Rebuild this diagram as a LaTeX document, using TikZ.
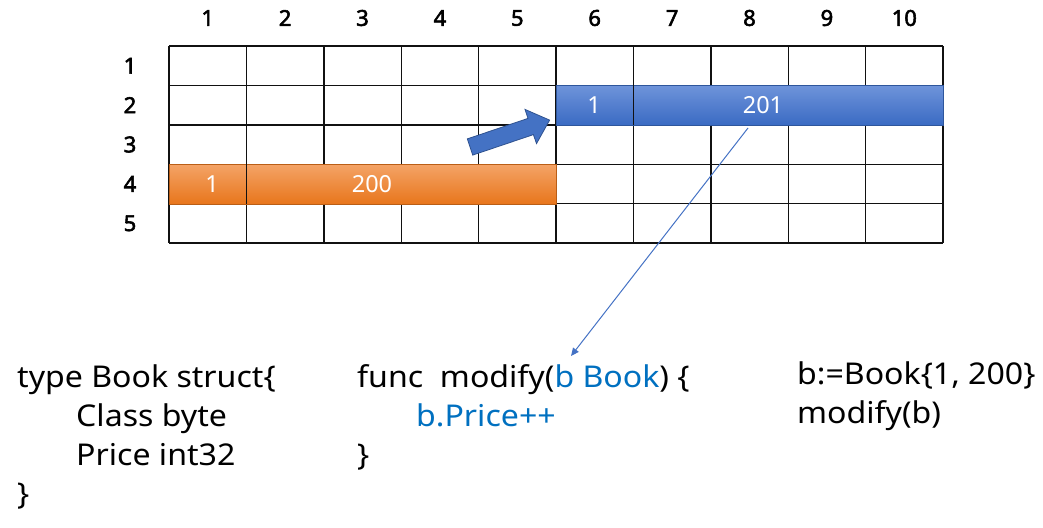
\documentclass[tikz,border=0pt]{standalone}
\usepackage{fontspec}
\usetikzlibrary{arrows.meta}
\setmainfont{Noto Sans}
\newfontfamily\labfont[FakeBold=2.5]{Noto Sans}
\newfontfamily\codefont[FakeStretch=1.07]{Noto Sans}
\definecolor{gridc}{HTML}{111111}
\definecolor{codeblue}{HTML}{0070C0}
\definecolor{arrowblue}{HTML}{4472C4}
\definecolor{arrowedge}{HTML}{2F528F}
\definecolor{ortop}{HTML}{F4A366}
\definecolor{orbot}{HTML}{E8761C}
\definecolor{bltop}{HTML}{6E93DA}
\definecolor{blbot}{HTML}{3A6BC3}
\tikzset{
  lab/.style={font=\labfont\fontsize{22}{26}\selectfont, text=black, inner sep=0pt},
  cellt/.style={font=\fontsize{23.5}{28}\selectfont, text=white, inner sep=0pt},
  code/.style={font=\codefont\fontsize{30}{36}\selectfont, text=black, inner sep=0pt, anchor=base west},
  orbar/.style={top color=ortop, bottom color=orbot, draw=orbot!80!black, line width=0.6pt},
  blbar/.style={top color=bltop, bottom color=blbot, draw=blbot!80!black, line width=0.6pt},
}
\begin{document}
\begin{tikzpicture}[x=1pt,y=-1pt]
\useasboundingbox (0,0) rectangle (1043,527);
% grid
\foreach \i in {0,...,10} {
  \draw[gridc, line width=1.4pt] ({169+77.4*\i},46) -- ({169+77.4*\i},243);
}
\foreach \j in {0,...,5} {
  \draw[gridc, line width=1.4pt] (169,{46+39.4*\j}) -- (943,{46+39.4*\j});
}
% column labels
\foreach \i in {1,...,10} {
  \node[lab] (c\i) at ({169+77.4*(\i-0.5)},18) {\i};
}
% row labels
\foreach \j in {1,...,5} {
  \node[lab] (r\j) at (130,{46+39.4*(\j-0.5)}) {\j};
}
% orange bar (row 4, columns 1-5)
\node[orbar, inner sep=0pt, minimum width=386.5pt, minimum height=39.4pt, anchor=north west] (obar) at (169,164.2) {};
\draw[gridc, line width=1.4pt] (246.4,164.2) -- (246.4,203.6);
\node[cellt] (o1) at (212,184) {1};
\node[cellt] (o200) at (372,184) {200};
% blue bar (row 2, columns 6-10)
\node[blbar, inner sep=0pt, minimum width=387pt, minimum height=39.4pt, anchor=north west] (bbar) at (556,85.4) {};
\draw[gridc, line width=1.4pt] (633.4,85.4) -- (633.4,124.8);
\node[cellt] (b1) at (594,105) {1};
\node[cellt] (b201) at (763,105) {201};
% block arrow
\draw[fill=arrowblue, draw=arrowedge, line width=0.8pt]
  (467.3,138.9) -- (528.0,118.4) -- (525.0,109.4) -- (549.6,120.1)
  -- (536.5,143.6) -- (533.4,134.6) -- (472.7,155.1) -- cycle;
% code text
\node[code] (t1) at (17,387) {type Book struct\{};
\node[code] (t2) at (76,426) {Class byte};
\node[code] (t3) at (76,465) {Price int32};
\node[code] (t4) at (17,504) {\}};
\node[code] (f1) at (357,387) {func\ \ modify(\textcolor{codeblue}{b Book}) \{};
\node[code, text=codeblue] (f2) at (416,426) {b.Price++};
\node[code] (f3) at (357,465) {\}};
\node[code] (m1) at (797,384) {b:=Book\{1, 200\}};
\node[code] (m2) at (797,423) {modify(b)};
% thin pointer arrow
\coordinate (pstart) at (748,128);
\coordinate (pend) at (571,356);
\draw[arrowblue, line width=1pt, -{Triangle[length=8pt,width=7pt]}] (pstart) -- (pend);
\end{tikzpicture}
\end{document}
